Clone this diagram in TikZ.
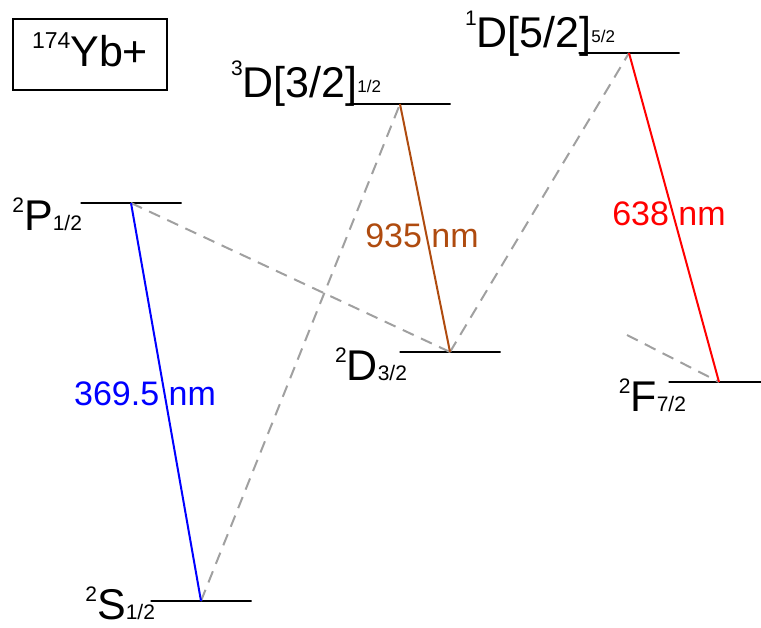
\documentclass[tikz,border=0pt]{standalone}
\usepackage{fontspec}
\setmainfont{Liberation Sans}
\newcommand{\glab}[3]{\raisebox{18pt}{\fontsize{21}{21}\selectfont #1}#2\raisebox{0pt}{\fontsize{21}{21}\selectfont #3}}
\newcommand{\ulab}[3]{\raisebox{22pt}{\fontsize{21}{21}\selectfont #1}#2\raisebox{5pt}{\fontsize{17}{17}\selectfont #3}}
\definecolor{brownline}{RGB}{175,75,15}
\definecolor{dashgray}{RGB}{160,160,160}
\begin{document}
\begin{tikzpicture}[x=1pt,y=-1pt,
  level/.style={draw, line width=2.5pt, shape=rectangle, minimum width=101pt, minimum height=0pt, inner sep=0pt, outer sep=0pt},
  lab/.style={inner sep=0pt, outer sep=0pt, font=\fontsize{43}{43}\selectfont},
  wl/.style={inner sep=0pt, outer sep=0pt, font=\fontsize{34}{34}\selectfont, anchor=base},
  trans/.style={line width=2pt},
  decay/.style={line width=2pt, dashgray, dash pattern=on 12pt off 8pt}]
\clip (0,0) rectangle (761,628);
% levels
\node[level] (S)  at (201,601) {};
\node[level] (P)  at (131,203) {};
\node[level] (D3) at (400,104) {};
\node[level] (D2) at (450,352) {};
\node[level] (D5) at (629,53) {};
\node[level] (F)  at (719,382) {};
% level labels
\node[lab, anchor=base east] (lS) at (155,619) {\glab{2}{S}{1/2}};
\node[lab, anchor=base east] (lP) at (82,231) {\glab{2}{P}{1/2}};
\node[lab, anchor=base east] (lD2) at (407,381) {\glab{2}{D}{3/2}};
\node[lab, anchor=base east] (lF) at (686,412) {\glab{2}{F}{7/2}};
\node[lab, anchor=base west] (lD3) at (231,98) {\ulab{3}{D[3/2]}{1/2}};
\node[lab, anchor=base west] (lD5) at (465,48) {\ulab{1}{D[5/2]}{5/2}};
% species box
\draw[line width=1.8pt] (13,19) rectangle (167,90);
\node[lab, anchor=base west] (yb) at (32,67) {\raisebox{18pt}{\fontsize{23}{23}\selectfont 174}Yb+};
% wavelength labels
\node[wl, blue] (w1) at (145,406) {369.5 nm};
\node[wl, brownline] (w2) at (422,248) {935 nm};
\node[wl, red] (w3) at (669,226) {638 nm};
% decays
\coordinate (fx) at (627,335);
\draw[decay] (S.center) -- (D3.center);
\draw[decay] (P.center) -- (D2.center);
\draw[decay] (D2.center) -- (D5.center);
\draw[decay] (fx) -- (F.center);
% transitions
\draw[trans, blue] (P.center) -- (S.center);
\draw[trans, brownline] (D3.center) -- (D2.center);
\draw[trans, red] (D5.center) -- (F.center);
\end{tikzpicture}
\end{document}
